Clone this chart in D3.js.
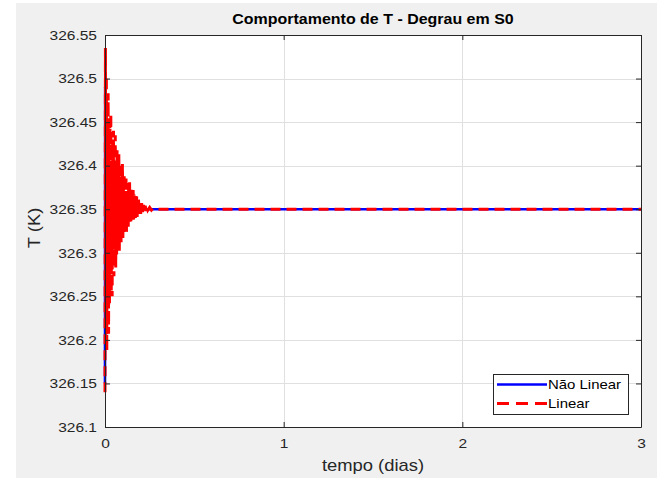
<!DOCTYPE html>
<html>
<head>
<meta charset="utf-8">
<script src="https://cdn.jsdelivr.net/npm/d3@7"></script>
<style>
  html, body { margin: 0; padding: 0; background: #ffffff; }
  svg { display: block; }
</style>
</head>
<body>
<svg id="chart" width="657" height="478"></svg>
<script>
// Temperature response to a step in S0 (time in days, T in kelvin)
const titleText = "Comportamento de T - Degrau em S0";
const xLabelText = "tempo (dias)";
const yLabelText = "T (K)";
const seriesNames = ["Não Linear", "Linear"];

const xTicks = [0, 1, 2, 3];
const yTicks = [326.1, 326.15, 326.2, 326.25, 326.3, 326.35, 326.4, 326.45, 326.5, 326.55];
const yTickLabels = ["326.1", "326.15", "326.2", "326.25", "326.3", "326.35", "326.4", "326.45", "326.5", "326.55"];

// Nonlinear model: settles almost immediately
const tNonLinear = [0, 0.001, 0.002, 0.003, 0.004, 0.005, 0.006, 0.008, 3];
const TNonLinear = [326.150, 326.490, 326.200, 326.440, 326.290, 326.385, 326.340, 326.350, 326.350];

// Linearised model: decaying oscillation
const tLinear = [
  0, 0.0025, 0.005, 0.0075, 0.01, 0.0125, 0.015, 0.0175, 0.02, 0.0225,
  0.025, 0.0275, 0.03, 0.0325, 0.035, 0.0375, 0.04, 0.0425, 0.045, 0.0475,
  0.05, 0.0525, 0.055, 0.0575, 0.06, 0.0625, 0.065, 0.0675, 0.07, 0.0725,
  0.075, 0.0775, 0.08, 0.0825, 0.085, 0.0875, 0.09, 0.0925, 0.095, 0.0975,
  0.1, 0.1025, 0.105, 0.1075, 0.11, 0.1125, 0.115, 0.1175, 0.12, 0.1225,
  0.125, 0.1275, 0.13, 0.1325, 0.135, 0.1375, 0.14, 0.1425, 0.145, 0.1475,
  0.15, 0.1525, 0.155, 0.1575, 0.16, 0.1625, 0.165, 0.1675, 0.17, 0.1725,
  0.175, 0.1775, 0.18, 0.1825, 0.185, 0.1875, 0.19, 0.1925, 0.195, 0.1975,
  0.2, 0.205, 0.21, 0.215, 0.22, 0.225, 0.23, 0.235, 0.24, 0.25,
  0.26, 0.27, 0.3, 3
];
const TLinear = [
  326.140, 326.535, 326.213, 326.503, 326.188, 326.452, 326.267, 326.483, 326.207, 326.425,
  326.242, 326.452, 326.278, 326.460, 326.256, 326.403, 326.250, 326.430, 326.287, 326.440,
  326.273, 326.404, 326.311, 326.435, 326.283, 326.406, 326.298, 326.418, 326.314, 326.385,
  326.303, 326.414, 326.300, 326.400, 326.318, 326.386, 326.312, 326.397, 326.331, 326.402,
  326.317, 326.384, 326.324, 326.390, 326.332, 326.371, 326.326, 326.388, 326.324, 326.380,
  326.333, 326.371, 326.330, 326.378, 326.340, 326.381, 326.333, 326.370, 326.336, 326.374,
  326.340, 326.363, 326.338, 326.372, 326.337, 326.367, 326.342, 326.361, 326.340, 326.365,
  326.345, 326.366, 326.341, 326.360, 326.344, 326.362, 326.346, 326.356, 326.345, 326.360,
  326.344, 326.357, 326.346, 326.355, 326.347, 326.354, 326.348, 326.353, 326.349, 326.352,
  326.349, 326.351, 326.350, 326.350
];

const W = 657, H = 478;
const plot = { left: 105, top: 35, right: 641, bottom: 427 };
const axisColor = "#262626";
const fontFam = "'Liberation Sans', Arial, Helvetica, sans-serif";
const stretch = 1.15; // horizontal text stretch

const svg = d3.select("#chart");

// figure background
svg.append("rect").attr("x", 0).attr("y", 0).attr("width", W).attr("height", H).attr("fill", "#ffffff");
svg.append("rect").attr("x", 16).attr("y", 3).attr("width", W - 16).attr("height", H - 3).attr("fill", "#f0f0f0");

const x = d3.scaleLinear().domain([0, 3]).range([plot.left, plot.right]);
const y = d3.scaleLinear().domain([326.1, 326.55]).range([plot.bottom, plot.top]);

// axes background
svg.append("rect")
  .attr("x", plot.left).attr("y", plot.top)
  .attr("width", plot.right - plot.left).attr("height", plot.bottom - plot.top)
  .attr("fill", "#ffffff");

// grid
const grid = svg.append("g").attr("stroke", "#e0e0e0").attr("stroke-width", 1);
grid.selectAll("line.gx").data(xTicks.slice(1, -1)).enter().append("line")
  .attr("x1", d => Math.round(x(d)) + 0.5).attr("x2", d => Math.round(x(d)) + 0.5)
  .attr("y1", plot.top).attr("y2", plot.bottom);
grid.selectAll("line.gy").data(yTicks.slice(1, -1)).enter().append("line")
  .attr("y1", d => Math.round(y(d)) + 0.5).attr("y2", d => Math.round(y(d)) + 0.5)
  .attr("x1", plot.left).attr("x2", plot.right);

// data lines
svg.append("clipPath").attr("id", "clip").append("rect")
  .attr("x", plot.left - 3).attr("y", plot.top).attr("width", plot.right - plot.left + 3).attr("height", plot.bottom - plot.top);

const line = d3.line().x(d => x(d[0])).y(d => y(d[1]));
const lines = svg.append("g").attr("clip-path", "url(#clip)");

lines.append("path")
  .datum(tNonLinear.map((t, i) => [t, TNonLinear[i]]))
  .attr("d", line)
  .attr("fill", "none").attr("stroke", "#0000ff").attr("stroke-width", 2.6)
  .attr("stroke-linejoin", "round");

lines.append("path")
  .datum(tLinear.map((t, i) => [t, TLinear[i]]))
  .attr("d", line)
  .attr("fill", "none").attr("stroke", "#ff0000").attr("stroke-width", 3)
  .attr("stroke-dasharray", "10,6");

// axes using d3 axis generators, ticks pointing inwards
const axisStyle = g => {
  g.selectAll(".domain").attr("stroke", axisColor).attr("stroke-width", 1);
  g.selectAll(".tick line").attr("stroke", axisColor);
  g.selectAll(".tick text").attr("fill", axisColor).attr("font-family", fontFam)
    .attr("font-size", 13.5).attr("transform", `scale(${stretch},1)`);
};

const xAxis = d3.axisBottom(x).tickValues(xTicks).tickFormat(d3.format("d")).tickSizeInner(-5).tickSizeOuter(0).tickPadding(11);
svg.append("g").attr("transform", `translate(0,${plot.bottom})`).call(xAxis).call(axisStyle);

const xAxisTop = d3.axisTop(x).tickValues(xTicks).tickFormat("").tickSizeInner(-5).tickSizeOuter(0);
svg.append("g").attr("transform", `translate(0,${plot.top})`).call(xAxisTop).call(axisStyle);

const yAxis = d3.axisLeft(y).tickValues(yTicks).tickFormat((d, i) => yTickLabels[i]).tickSizeInner(-5).tickSizeOuter(0).tickPadding(7);
svg.append("g").attr("transform", `translate(${plot.left},0)`).call(yAxis).call(axisStyle);

const yAxisRight = d3.axisRight(y).tickValues(yTicks).tickFormat("").tickSizeInner(-5).tickSizeOuter(0);
svg.append("g").attr("transform", `translate(${plot.right},0)`).call(yAxisRight).call(axisStyle);

// title and axis labels
svg.append("g").attr("transform", `translate(${(plot.left + plot.right) / 2},24) scale(${stretch},1)`)
  .append("text")
  .attr("text-anchor", "middle").attr("font-family", fontFam)
  .attr("font-size", 13.9).attr("font-weight", "bold").attr("fill", "#000000")
  .text(titleText);

svg.append("g").attr("transform", `translate(${(plot.left + plot.right) / 2},471) scale(${stretch},1)`)
  .append("text")
  .attr("text-anchor", "middle").attr("font-family", fontFam)
  .attr("font-size", 16).attr("fill", axisColor)
  .text(xLabelText);

svg.append("g").attr("transform", `translate(40,${(plot.top + plot.bottom) / 2 - 3}) rotate(-90) scale(${stretch},1)`)
  .append("text")
  .attr("text-anchor", "middle").attr("font-family", fontFam)
  .attr("font-size", 16).attr("fill", axisColor)
  .text(yLabelText);

// legend
const legend = svg.append("g").attr("transform", "translate(493,374)");
legend.append("rect").attr("x", 0.5).attr("y", 0.5).attr("width", 135).attr("height", 40)
  .attr("fill", "#ffffff").attr("stroke", axisColor).attr("stroke-width", 1);
const legendStyles = [
  { color: "#0000ff", dash: null, width: 2.6 },
  { color: "#ff0000", dash: "12,7", width: 3 }
];
seriesNames.forEach((name, i) => {
  const yy = 10.5 + i * 19;
  const ln = legend.append("line").attr("x1", 4).attr("x2", 54).attr("y1", yy).attr("y2", yy)
    .attr("stroke", legendStyles[i].color).attr("stroke-width", legendStyles[i].width);
  if (legendStyles[i].dash) ln.attr("stroke-dasharray", legendStyles[i].dash);
  legend.append("g").attr("transform", `translate(55,${yy + 4.5}) scale(${stretch},1)`)
    .append("text")
    .attr("font-family", fontFam).attr("font-size", 13).attr("fill", "#000000")
    .text(name);
});
</script>
</body>
</html>
